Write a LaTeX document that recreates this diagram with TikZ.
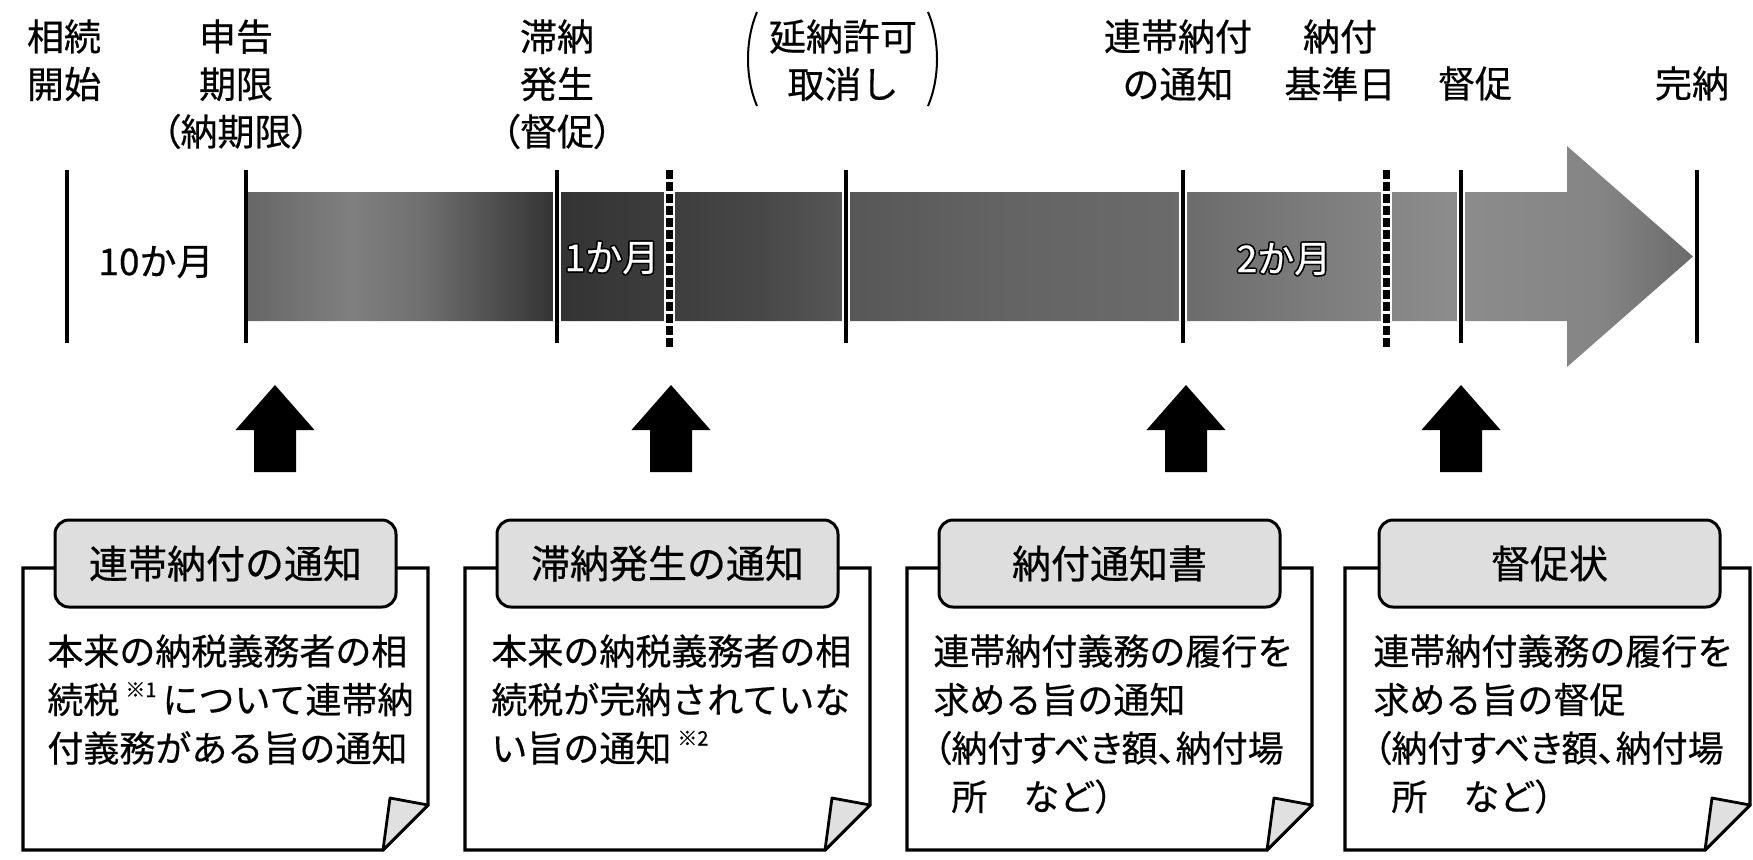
\documentclass[tikz,border=0pt]{standalone}
\usepackage{fontspec}
\setmainfont{Noto Sans CJK JP}[FakeBold=0.5]
\newfontfamily\jpp{Noto Sans CJK JP}[RawFeature=+palt,FakeBold=0.5]
\usetikzlibrary{calc}
\pgfdeclarehorizontalshading{barshade}{100bp}{
 color(0bp)=(black!60);
 color(25bp)=(black!60);
 color(28.6bp)=(black!50);
 color(31bp)=(black!56);
 color(33.8bp)=(black!70);
 color(35.7bp)=(black!80);
 color(39.6bp)=(black!76);
 color(42.8bp)=(black!72);
 color(45.7bp)=(black!66);
 color(51.1bp)=(black!61);
 color(57.4bp)=(black!58);
 color(61.4bp)=(black!52);
 color(66.6bp)=(black!45);
 color(71.8bp)=(black!48);
 color(75bp)=(black!58);
 color(100bp)=(black!58)}
\newcommand{\myoutline}[3]{%
  \foreach \dx/\dy in {-1.6/0,1.6/0,0/-1.6,0/1.6,-1.2/-1.2,1.2/1.2,-1.2/1.2,1.2/-1.2}
    \node[bartext, text=black] at ($(#2)+(\dx,\dy)$) {#3};
  \node[bartext, text=white] (#1) at (#2) {#3};}
\begin{document}
\begin{tikzpicture}[x=0.5pt,y=-0.5pt,
  lbl/.style={font=\fontsize{18.5}{23.75}\selectfont, align=center, inner sep=0, anchor=north},
  bartext/.style={font=\fontsize{18.5}{22}\selectfont, inner sep=0},
  tline/.style={line width=2pt},
  dline/.style={line width=3.5pt, dash pattern=on 4.5pt off 1.5pt},
  halo/.style={white, line width=4pt},
  dhalo/.style={white, line width=5.5pt},
  card/.style={draw, line width=1.6pt, fill=white, line join=miter},
  fold/.style={draw, line width=1.4pt, fill=black!12, line join=round},
  tabbox/.style={draw, line width=1.5pt, fill=black!13, rounded corners=7pt,
    minimum width=170.5pt, minimum height=43.5pt, inner sep=0,
    font=\fontsize{19.5}{24}\selectfont},
  body/.style={font=\fontsize{18}{24.25}\selectfont, align=left, inner sep=0, anchor=north west},
  uparrow/.style={fill=black}]
\useasboundingbox (0,0) rectangle (1753,859);

% top labels
\node[lbl] (l1) at (64,19) {相続\\開始};
\node[lbl] (l2) at (236,19) {申告\\期限\\{\jpp （納期限）}};
\node[lbl] (l3) at (557,19) {滞納\\発生\\{\jpp （督促）}};
\node[lbl] (l4) at (843,19) {延納許可\\取消し};
\node[lbl] (l5) at (1178,19) {連帯納付\\の通知};
\node[lbl] (l6) at (1340,19) {納付\\基準日};
\node[lbl] (l7) at (1475,66) {督促};
\node[lbl] (l8) at (1692,66) {完納};
\draw[line width=1pt] (757,12) .. controls (745,40) and (745,78) .. (757,106);
\draw[line width=1pt] (928,12) .. controls (940,40) and (940,78) .. (928,106);

% timeline bar
\shade[shading=barshade] (246,192) -- (1567,192) -- (1567,146) -- (1693,256.5)
  -- (1567,367) -- (1567,321) -- (246,321) -- cycle;

% halos inside the bar
\foreach \x in {557,846,1183,1461} \draw[halo] (\x,192) -- (\x,321);
\foreach \x in {669,1386} \draw[dhalo] (\x,192) -- (\x,321);

% vertical lines
\foreach \x in {67,246,557,846,1183,1461,1697} \draw[tline] (\x,170) -- (\x,343);
\foreach \x in {669,1386} \draw[dline] (\x,170) -- (\x,348);

% period labels
\node[bartext] (m0) at (156,262) {10か月};
\myoutline{m1}{612,258}{1か月}
\myoutline{m2}{1284,259}{2か月}

% up arrows
\foreach \x/\n in {275/a1,671/a2,1186/a3,1461/a4}{
  \coordinate (\n) at (\x,385);
  \fill[uparrow] (\n) -- ++(39.5,45) -- ++(-18.5,0) -- ++(0,42) -- ++(-42,0)
    -- ++(0,-42) -- ++(-18.5,0) -- cycle;
}

% cards
\foreach \L/\i in {23/1,465/2,907/3,1345/4}{
  \pgfmathsetmacro{\R}{\L+405}
  \draw[card] (\L,568) -- (\R,568) -- (\R,805) -- (\R-45,850) -- (\L,850) -- cycle;
  \draw[fold] (\R-45,850) -- (\R-38,798) -- (\R,805) -- cycle;
}
\node[tabbox] (t1) at (225.5,563.5) {連帯納付の通知};
\node[tabbox] (t2) at (667.5,563.5) {滞納発生の通知};
\node[tabbox] (t3) at (1109.5,563.5) {納付通知書};
\node[tabbox] (t4) at (1549.5,563.5) {督促状};

\node[body] (b1) at (47,634) {本来の納税義務者の相\\続税\,\raisebox{0.45em}{\fontsize{10}{10}\selectfont ※1}\,について連帯納\\付義務がある旨の通知};
\node[body] (b2) at (491,634) {本来の納税義務者の相\\続税が完納されていな\\い旨の通知\,\raisebox{0.45em}{\fontsize{10}{10}\selectfont ※2}};
\node[body] (b3) at (933,634) {連帯納付義務の履行を\\求める旨の通知\\{\jpp （納付すべき額、納付場}\\\hspace*{0.5em}所　など{\jpp ）}};
\node[body] (b4) at (1373,634) {連帯納付義務の履行を\\求める旨の督促\\{\jpp （納付すべき額、納付場}\\\hspace*{0.5em}所　など{\jpp ）}};
\end{tikzpicture}
\end{document}
